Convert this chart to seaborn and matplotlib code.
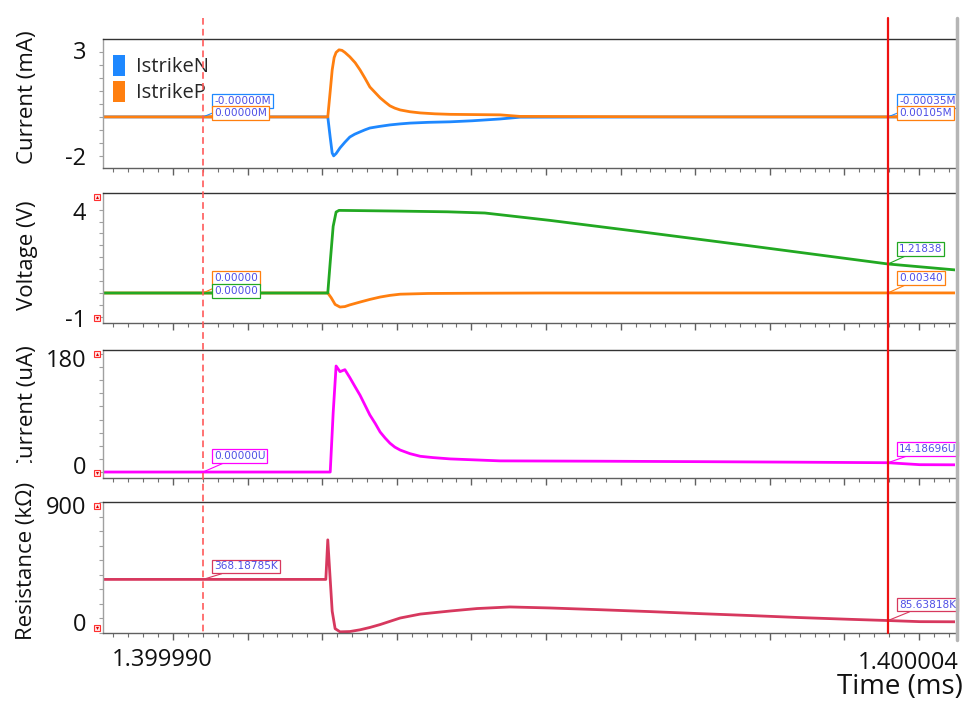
import numpy as np
import pandas as pd
import matplotlib
matplotlib.use("Agg")
import matplotlib.pyplot as plt
import matplotlib.transforms as mtransforms
from matplotlib.lines import Line2D
from matplotlib.patches import Patch
from matplotlib.transforms import Bbox
import seaborn as sns

# ---------------- time base (ns after 1.399990 ms) ----------------
T_REF_MS = 1.399990
cursor_ns = [0.0, 14.0]
x_range_ns = (-2.044, 15.369)

# ---------------- strike currents (mA) ----------------
t_istrike_n = [-2.05, 2.55, 2.60, 2.64, 2.67, 2.72, 2.80, 2.90, 3.00, 3.10, 3.21, 3.31,
               3.41, 3.60, 3.82, 4.03, 4.23, 4.60, 5.05, 5.50, 6.07, 6.48, 10.0, 14.0, 15.37]
istrike_n = [-2e-6, -2e-6, -0.8, -1.4, -1.51, -1.42, -1.2, -0.98, -0.78, -0.67, -0.58, -0.50,
             -0.43, -0.37, -0.31, -0.27, -0.24, -0.21, -0.19, -0.15, -0.08, -0.01,
             -0.0005, -0.00035, -0.0003]
t_istrike_p = [-2.05, 2.55, 2.60, 2.64, 2.68, 2.72, 2.78, 2.84, 2.90, 3.00, 3.11, 3.21,
               3.31, 3.41, 3.52, 3.62, 3.72, 3.82, 3.92, 4.03, 4.23, 4.44, 4.74, 5.05,
               6.07, 6.48, 10.0, 14.0, 15.37]
istrike_p = [0.0, 0.0, 1.0, 1.82, 2.3, 2.5, 2.6, 2.58, 2.5, 2.33, 2.1, 1.82,
             1.5, 1.16, 0.94, 0.74, 0.58, 0.43, 0.34, 0.27, 0.2, 0.155, 0.12, 0.10,
             0.08, 0.02, 0.002, 0.00105, 0.001]

# ---------------- node voltages (V) ----------------
t_vout = [-2.05, 2.55, 2.60, 2.66, 2.72, 2.78, 3.2, 4.0, 5.0, 5.76, 7.09, 9.14,
          11.18, 14.0, 15.37]
vout = [0.0, 0.0, 1.3, 2.8, 3.4, 3.47, 3.46, 3.44, 3.41, 3.36, 3.05, 2.52,
        1.98, 1.21838, 0.97]
t_vp = [-2.05, 2.55, 2.62, 2.70, 2.80, 2.90, 3.00, 3.21, 3.41, 3.62, 3.82, 4.03,
        4.6, 5.5, 7.0, 14.0, 15.37]
vp = [0.0, 0.0, -0.2, -0.48, -0.59, -0.57, -0.50, -0.38, -0.27, -0.17, -0.10, -0.05,
      -0.02, -0.01, 0.0, 0.0034, 0.0034]

# ---------------- supply current (uA) ----------------
t_iu = [-2.05, 2.60, 2.66, 2.72, 2.80, 2.90, 3.00, 3.10, 3.21, 3.31, 3.41, 3.52,
        3.62, 3.72, 3.82, 3.92, 4.03, 4.23, 4.44, 4.70, 5.05, 6.07, 8.11, 10.16,
        12.2, 14.0, 14.65, 15.37]
iu = [0.0, 0.0, 90, 161.6, 153, 156, 144, 131, 117, 102, 87, 74,
      61, 52, 44, 38, 33.5, 28, 24, 22, 20, 17, 16.5, 15.8,
      15.0, 14.18696, 11.2, 11.0]

# ---------------- resistance (kOhm) ----------------
t_res = [-2.05, 2.51, 2.55, 2.59, 2.64, 2.70, 2.80, 3.00, 3.21, 3.41, 3.62, 3.82,
         4.03, 4.44, 5.05, 5.60, 6.27, 7.09, 8.11, 9.14, 10.16, 11.18, 12.2, 13.22,
         14.0, 14.65, 15.37]
res = [368.18785, 368.18785, 640, 420, 150, 30, 8, 10, 22, 38, 58, 80,
       103, 130, 151, 168, 179, 172, 160, 147, 133, 120, 106, 94,
       85.63818, 78, 77]

# ---------------- axis setup values ----------------
y_labels = ["Current (mA)", "Voltage (V)", "Current (uA)", "Resistance (k\u03a9)"]
y_limits = [(-1.98, 3.02), (-1.26, 4.2), (-9.1, 186), (0, 900)]
y_tick_vals = [[-1.5, 2.5], [-1.0, 3.5], [0, 180], [0, 900]]
y_tick_text = [["-2", "3"], ["-1", "4"], ["0", "180"], ["0", "900"]]
y_minor_step = [0.5, 0.5, 20, 100]
y_label_shift_px = [[0, 2], [-1, -1], [7, -4], [11, -3]]
y_title_center_px = [97, 255, 409, 561]

C_BLUE = "#1E88FF"
C_ORANGE = "#FF7F0F"
C_GREEN = "#22A822"
C_MAGENTA = "#FF00FF"
C_CRIMSON = "#D7385E"
TAG_TEXT = "#4F4FE6"

sns.set_theme(style="white")
plt.rcParams["font.family"] = ["Open Sans", "DejaVu Sans"]

W, H = 975, 707
fig = plt.figure(figsize=(W / 100, H / 100), dpi=100)


def frac_box(left, top, right, bottom):
    return [left / W, 1 - bottom / H, (right - left) / W, (bottom - top) / H]


panel_px = [(103, 39, 955, 168), (103, 193, 955, 323),
            (103, 350, 955, 478), (103, 502, 955, 633)]
axes = [fig.add_axes(frac_box(*p)) for p in panel_px]
ax1, ax2, ax3, ax4 = axes

# ---------------- traces ----------------
df_i = pd.concat([
    pd.DataFrame({"t": t_istrike_n, "v": istrike_n, "trace": "IstrikeN"}),
    pd.DataFrame({"t": t_istrike_p, "v": istrike_p, "trace": "IstrikeP"}),
])
sns.lineplot(data=df_i, x="t", y="v", hue="trace",
             palette={"IstrikeN": C_BLUE, "IstrikeP": C_ORANGE},
             estimator=None, sort=False, lw=2.0, legend=False, ax=ax1)

df_v = pd.concat([
    pd.DataFrame({"t": t_vp, "v": vp, "trace": "vp"}),
    pd.DataFrame({"t": t_vout, "v": vout, "trace": "vout"}),
])
sns.lineplot(data=df_v, x="t", y="v", hue="trace",
             palette={"vp": C_ORANGE, "vout": C_GREEN},
             estimator=None, sort=False, lw=2.0, legend=False, ax=ax2)

sns.lineplot(x=t_iu, y=iu, color=C_MAGENTA, estimator=None, sort=False,
             lw=2.0, ax=ax3)
sns.lineplot(x=t_res, y=res, color=C_CRIMSON, estimator=None, sort=False,
             lw=2.0, ax=ax4)

# ---------------- axes styling ----------------
tick_step = 1.5246
major_x = np.arange(-0.613 - tick_step, x_range_ns[1], tick_step)
major_x = major_x[major_x >= x_range_ns[0]]
minor_x = np.arange(-0.613 - tick_step, x_range_ns[1], tick_step / 5)
minor_x = minor_x[minor_x >= x_range_ns[0]]

for i, ax in enumerate(axes):
    ax.set_xlim(*x_range_ns)
    ax.set_ylim(*y_limits[i])
    ax.set_xticks(major_x)
    ax.set_xticks(minor_x, minor=True)
    ax.set_xticklabels([])
    ax.set_xlabel("")
    ax.set_yticks(y_tick_vals[i], labels=y_tick_text[i])
    lo, hi = y_tick_vals[i]
    ax.set_yticks(np.arange(lo, hi + 1e-9, y_minor_step[i]), minor=True)
    ax.set_facecolor("white")
    for side in ["top", "left", "bottom", "right"]:
        ax.spines[side].set_visible(True)
    ax.spines["top"].set_color("#333333")
    ax.spines["top"].set_linewidth(1.0)
    ax.spines["left"].set_color("#A0A0A0")
    ax.spines["left"].set_linewidth(1.0)
    ax.spines["bottom"].set_color("#606060")
    ax.spines["bottom"].set_linewidth(1.0)
    ax.spines["right"].set_visible(False)
    ax.tick_params(axis="x", which="major", bottom=True, length=5, width=1,
                   color="#606060", direction="out")
    ax.tick_params(axis="x", which="minor", bottom=True, length=2.8, width=0.8,
                   color="#707070", direction="out")
    ax.tick_params(axis="y", which="both", left=True, length=3, width=0.8,
                   color="#A0A0A0", direction="out", labelsize=17, pad=9,
                   labelcolor="#111111")
    for lab, dy in zip(ax.get_yticklabels(), y_label_shift_px[i]):
        lab.set_transform(lab.get_transform() +
                          mtransforms.ScaledTranslation(0, dy / 100, fig.dpi_scale_trans))

    top, bottom = panel_px[i][1], panel_px[i][3]
    hpx = bottom - top
    ax.set_ylabel(y_labels[i], fontsize=16, va="center", color="#111111")
    ax.yaxis.set_label_coords(-76 / 852, (bottom - y_title_center_px[i]) / hpx)

# the uA title is clipped to its own strip
ylab3 = ax3.yaxis.label
ylab3.set_clip_box(Bbox.from_extents(0, H - 463, 100, H - 330))
ylab3.set_clip_on(True)

# limit markers on the left axis of the lower panels
for i, ax in enumerate(axes[1:], start=1):
    hpx = panel_px[i][3] - panel_px[i][1]
    xm = -6 / 852
    for ym, tri in [(1 - 4 / hpx, "^"), (5 / hpx, "v")]:
        ax.plot([xm], [ym], marker="s", ms=4.2, mfc="#FFE4E4", mec="#FF3030",
                mew=0.8, transform=ax.transAxes, clip_on=False, zorder=6)
        ax.plot([xm], [ym], marker=tri, ms=2.2, color="#E00000", mew=0,
                transform=ax.transAxes, clip_on=False, zorder=7)

# legend of the strike currents
handles = [Patch(facecolor=C_BLUE, edgecolor="none", label="IstrikeN"),
           Patch(facecolor=C_ORANGE, edgecolor="none", label="IstrikeP")]
ax1.legend(handles=handles, loc="upper left", bbox_to_anchor=(10 / 852, 1 - 16 / 129),
           frameon=False, fontsize=14.5, handlelength=0.6, handleheight=1.2,
           handletextpad=0.55, labelspacing=0.2, borderpad=0, borderaxespad=0)

# ---------------- cursors ----------------
blend = mtransforms.blended_transform_factory(ax4.transData, fig.transFigure)
fig.add_artist(Line2D([cursor_ns[0]] * 2, [1 - 18 / H, 1 - 633 / H], transform=blend,
                      color="#FF5A5A", lw=1.2, ls=(0, (4, 2.5)), zorder=4))
fig.add_artist(Line2D([cursor_ns[1]] * 2, [1 - 18 / H, 1 - 633 / H], transform=blend,
                      color="#EE1111", lw=1.6, zorder=4))
fig.add_artist(Line2D([956.5 / W] * 2, [1 - 18 / H, 1 - 640 / H], transform=fig.transFigure,
                      color="#B5B5B5", lw=2.5))


def cursor_tag(ax, x, y, text, edge, dx, dy):
    ax.annotate(text, xy=(x, y), xytext=(dx, dy), textcoords="offset pixels",
                ha="left", va="center", fontsize=7.6, color=TAG_TEXT,
                family=["DejaVu Sans"],
                bbox=dict(boxstyle="square,pad=0.18", fc="white", ec=edge, lw=0.9),
                arrowprops=dict(arrowstyle="-", color=edge, lw=0.8,
                                shrinkA=0, shrinkB=0),
                annotation_clip=False, zorder=8)


def at(c, t, v):
    return float(np.interp(c, t, v))


ca, cb = cursor_ns
# current (mA)
cursor_tag(ax1, ca, at(ca, t_istrike_n, istrike_n), f"{at(ca, t_istrike_n, istrike_n):.5f}M", C_BLUE, 11, 16)
cursor_tag(ax1, ca, at(ca, t_istrike_p, istrike_p), f"{at(ca, t_istrike_p, istrike_p):.5f}M", C_ORANGE, 11, 4)
cursor_tag(ax1, cb, at(cb, t_istrike_n, istrike_n), f"{at(cb, t_istrike_n, istrike_n):.5f}M", C_BLUE, 11, 16)
cursor_tag(ax1, cb, at(cb, t_istrike_p, istrike_p), f"{at(cb, t_istrike_p, istrike_p):.5f}M", C_ORANGE, 11, 4)
# voltage
cursor_tag(ax2, ca, at(ca, t_vp, vp), f"{at(ca, t_vp, vp):.5f}", C_ORANGE, 11, 15)
cursor_tag(ax2, ca, at(ca, t_vout, vout), f"{at(ca, t_vout, vout):.5f}", C_GREEN, 11, 2)
cursor_tag(ax2, cb, at(cb, t_vout, vout), f"{at(cb, t_vout, vout):.5f}", C_GREEN, 11, 15)
cursor_tag(ax2, cb, at(cb, t_vp, vp), f"{at(cb, t_vp, vp):.5f}", C_ORANGE, 11, 15)
# current (uA)
cursor_tag(ax3, ca, at(ca, t_iu, iu), f"{at(ca, t_iu, iu):.5f}U", C_MAGENTA, 11, 16)
cursor_tag(ax3, cb, at(cb, t_iu, iu), f"{at(cb, t_iu, iu):.5f}U", C_MAGENTA, 11, 14)
# resistance
cursor_tag(ax4, ca, at(ca, t_res, res), f"{at(ca, t_res, res):.5f}K", C_CRIMSON, 11, 13)
cursor_tag(ax4, cb, at(cb, t_res, res), f"{at(cb, t_res, res):.5f}K", C_CRIMSON, 11, 16)

# ---------------- time axis text ----------------
xblend = mtransforms.blended_transform_factory(ax4.transData, ax4.transAxes)
ax4.text(ca, (633 - 660) / 131, f"{T_REF_MS + ca * 1e-6:.6f}", fontsize=17,
         ha="right", va="center", color="#111111",
         transform=mtransforms.offset_copy(xblend, fig=fig, x=10, y=0, units="dots"))
ax4.text(cb, (633 - 663) / 131, f"{T_REF_MS + cb * 1e-6:.6f}", fontsize=17,
         ha="right", va="center", color="#111111",
         transform=mtransforms.offset_copy(xblend, fig=fig, x=71, y=0, units="dots"))
ax4.set_xlabel("Time (ms)", fontsize=20, ha="right", va="center", color="#111111")
ax4.xaxis.set_label_coords((963 - 103) / 852, (633 - 687) / 131)

fig.savefig("out.png", dpi=100)
